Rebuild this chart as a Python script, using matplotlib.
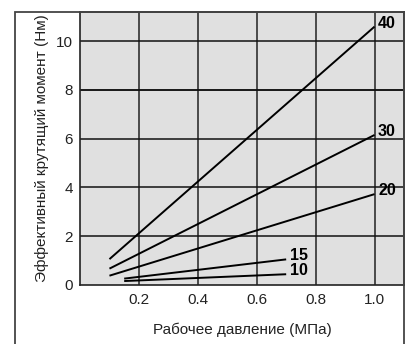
import matplotlib
matplotlib.use("Agg")
import matplotlib.pyplot as plt
from matplotlib.patches import Rectangle

plt.rcParams['font.family'] = ['Liberation Sans', 'DejaVu Sans']

series_labels = ["40", "30", "20", "15", "10"]
x_start = [0.1, 0.1, 0.1, 0.15, 0.15]
x_end = [1.0, 1.0, 1.0, 0.7, 0.7]
y_start = [1.05, 0.66, 0.37, 0.25, 0.15]
y_end = [10.6, 6.15, 3.72, 1.04, 0.43]

x_ticks = [0.2, 0.4, 0.6, 0.8, 1.0]
x_ticklabels = ["0.2", "0.4", "0.6", "0.8", "1.0"]
y_ticks = [0, 2, 4, 6, 8, 10]
y_ticklabels = ["0", "2", "4", "6", "8", "10"]

fig = plt.figure(figsize=(4.08, 3.44), dpi=100)
ax = fig.add_axes([80/408, 1 - 284.7/344, (404-80)/408, (284.7-12)/344])
ax.set_facecolor('#e0e0e0')
ax.set_xlim(0, 1.1)
ax.set_ylim(0, 11.2)

for xv in x_ticks:
    ax.axvline(xv, color='#222222', lw=1.1, zorder=1)
for yv in y_ticks[1:]:
    ax.axhline(yv, color='#111111', lw=1.35 if yv == 8 else 1.1, zorder=1)

for lab, xs, xe, ys, ye in zip(series_labels, x_start, x_end, y_start, y_end):
    ax.plot([xs, xe], [ys, ye], color='black', lw=1.4, zorder=3, solid_capstyle='butt')
    ax.annotate(lab, (xe, ye), xytext=(2.5, 2.5), textcoords='offset points',
                ha='left', va='center', fontsize=11.5, fontweight='bold', zorder=4)

ax.set_xticks(x_ticks)
ax.set_xticklabels(x_ticklabels)
ax.set_yticks(y_ticks)
ax.set_yticklabels(y_ticklabels)
ax.tick_params(length=0, labelsize=11, pad=6, colors='#222222')
ax.tick_params(axis='y', pad=5)
for s in ax.spines.values():
    s.set_color('#222222')
    s.set_linewidth(1.2)

ax.set_xlabel("Рабочее давление (МПа)", fontsize=11, labelpad=11, color='#222222')
ax.set_ylabel("Эффективный крутящий момент (Нм)", fontsize=11, labelpad=5, color='#222222')

box = Rectangle((15.5/408, -0.05), (404-15.5)/408, 0.05 + 1 - 12/344,
                transform=fig.transFigure, fill=False, edgecolor='#444444',
                lw=1.3, clip_on=False)
fig.patches.append(box)

fig.savefig("out.png", dpi=100)
